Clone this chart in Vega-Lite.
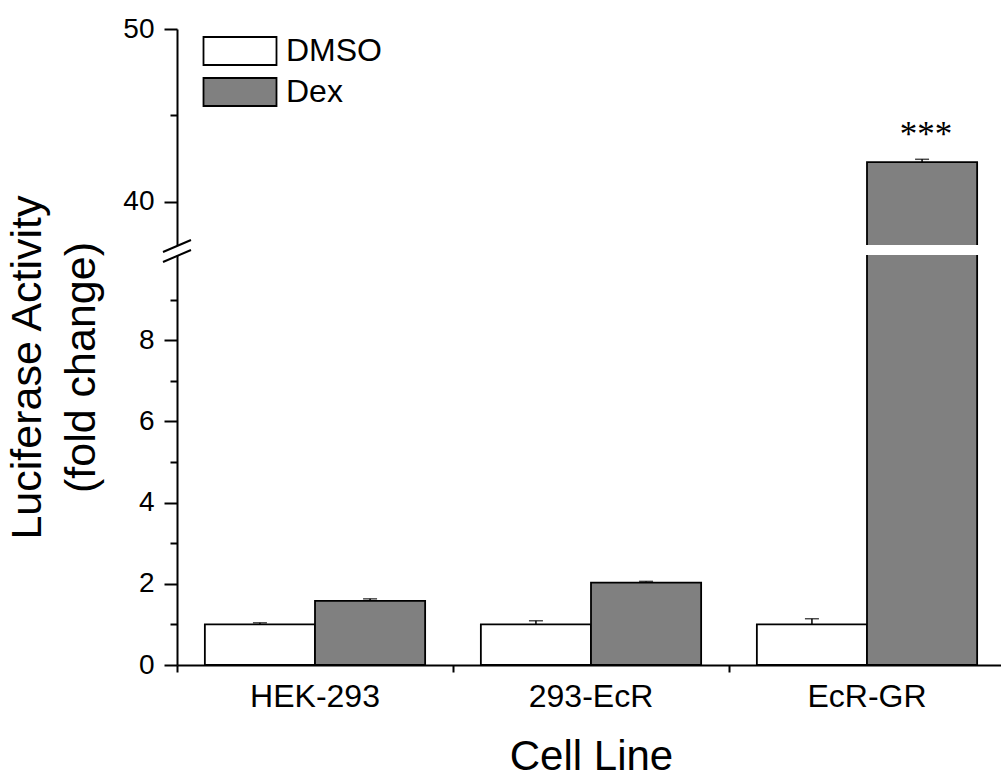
{
  "$schema": "https://vega.github.io/schema/vega-lite/v6.json",
  "background": "white",
  "padding": {"left": 6, "top": 15, "right": 0, "bottom": 0},
  "config": {
    "view": {"stroke": null},
    "font": "Liberation Sans",
    "axis": {
      "grid": false,
      "domainColor": "black",
      "domainWidth": 2,
      "tickColor": "black",
      "tickWidth": 2,
      "labelColor": "black",
      "titleColor": "black",
      "titleFontWeight": "normal",
      "labelFont": "Liberation Sans",
      "titleFont": "Liberation Sans"
    }
  },
  "datasets": {
    "bars": [
      {"cell": "HEK-293", "treatment": "DMSO", "value": 1.0, "upper": 1.04, "sig": ""},
      {"cell": "HEK-293", "treatment": "Dex", "value": 1.58, "upper": 1.63, "sig": ""},
      {"cell": "293-EcR", "treatment": "DMSO", "value": 1.0, "upper": 1.09, "sig": ""},
      {"cell": "293-EcR", "treatment": "Dex", "value": 2.03, "upper": 2.06, "sig": ""},
      {"cell": "EcR-GR", "treatment": "DMSO", "value": 1.0, "upper": 1.14, "sig": ""},
      {"cell": "EcR-GR", "treatment": "Dex", "value": 42.3, "upper": 42.46, "sig": "***"}
    ]
  },
  "spacing": 10,
  "bounds": "flush",
  "resolve": {"legend": {"color": "independent"}},
  "vconcat": [
    {
      "width": 828,
      "height": 216,
      "data": {"name": "bars"},
      "encoding": {
        "x": {
          "field": "cell", "type": "nominal",
          "sort": ["HEK-293", "293-EcR", "EcR-GR"],
          "scale": {"domain": ["HEK-293", "293-EcR", "EcR-GR"], "paddingInner": 0, "paddingOuter": 0},
          "axis": null
        },
        "xOffset": {
          "field": "treatment", "type": "nominal",
          "scale": {"domain": ["DMSO", "Dex"], "paddingInner": 0, "paddingOuter": 0.253}
        }
      },
      "resolve": {"axis": {"y": "independent"}},
      "layer": [
        {
          "mark": {"type": "bar", "clip": true, "stroke": "black", "strokeWidth": 1.8},
          "encoding": {
            "y": {
              "field": "value", "type": "quantitative",
              "scale": {"domain": [37.5, 50], "nice": false, "zero": false},
              "axis": {
                "title": null,
                "orient": "left",
                "values": [40, 50],
                "tickSize": 13,
                "labelFontSize": 28,
                "labelPadding": 10
              }
            },
            "color": {
              "field": "treatment", "type": "nominal",
              "scale": {"domain": ["DMSO", "Dex"], "range": ["#ffffff", "#808080"]},
              "legend": {
                "title": null,
                "orient": "none",
                "legendX": 47,
                "legendY": 6,
                "padding": 0,
                "symbolType": "M-2.607,-1H2.607V1H-2.607Z",
                "symbolSize": 784,
                "symbolStrokeColor": "black",
                "symbolStrokeWidth": 1.8,
                "symbolOpacity": 1,
                "labelFontSize": 32,
                "labelColor": "black",
                "labelOffset": 30,
                "rowPadding": 5
              }
            }
          }
        },
        {
          "mark": {"type": "rule", "clip": true, "color": "black", "strokeWidth": 1.5},
          "encoding": {
            "y": {
              "field": "value", "type": "quantitative",
              "axis": {"title": null, "orient": "left", "values": [45], "labels": false, "tickSize": 7, "domain": false}
            },
            "y2": {"field": "upper"}
          }
        },
        {
          "mark": {"type": "tick", "clip": true, "color": "black", "thickness": 1.5, "size": 14},
          "encoding": {
            "y": {"field": "upper", "type": "quantitative", "axis": null}
          }
        },
        {
          "transform": [{"filter": "datum.sig != ''"}],
          "mark": {"type": "text", "font": "Liberation Serif", "fontSize": 35, "baseline": "alphabetic", "dy": -13, "dx": 4, "color": "black"},
          "encoding": {
            "y": {"field": "upper", "type": "quantitative", "axis": null},
            "text": {"field": "sig"}
          }
        }
      ]
    },
    {
      "width": 828,
      "height": 410,
      "resolve": {"axis": {"y": "independent", "x": "independent"}},
      "layer": [
        {
          "data": {"name": "bars"},
          "mark": {"type": "bar", "clip": true, "stroke": "black", "strokeWidth": 1.8},
          "encoding": {
            "x": {
              "field": "cell", "type": "nominal",
              "sort": ["HEK-293", "293-EcR", "EcR-GR"],
              "scale": {"domain": ["HEK-293", "293-EcR", "EcR-GR"], "paddingInner": 0, "paddingOuter": 0},
              "axis": {
                "title": "Cell Line",
                "titleFontSize": 42,
                "titlePadding": 24,
                "labelFontSize": 32,
                "labelAngle": 0,
                "labelPadding": 9,
                "tickSize": 7,
                "bandPosition": 0
              }
            },
            "xOffset": {
              "field": "treatment", "type": "nominal",
              "scale": {"domain": ["DMSO", "Dex"], "paddingInner": 0, "paddingOuter": 0.253}
            },
            "y": {
              "field": "value", "type": "quantitative",
              "scale": {"domain": [0, 10.1], "nice": false, "zero": false},
              "axis": {
                "title": ["Luciferase Activity", "(fold change)"],
                "orient": "left",
                "titleFontSize": 43,
                "titleLineHeight": 54,
                "titlePadding": 35,
                "titleY": 112,
                "values": [0, 2, 4, 6, 8],
                "tickSize": 13,
                "labelFontSize": 28,
                "labelPadding": 10
              }
            },
            "color": {
              "field": "treatment", "type": "nominal",
              "scale": {"domain": ["DMSO", "Dex"], "range": ["#ffffff", "#808080"]},
              "legend": null
            }
          }
        },
        {
          "data": {"name": "bars"},
          "mark": {"type": "rule", "clip": true, "color": "black", "strokeWidth": 1.5},
          "encoding": {
            "x": {"field": "cell", "type": "nominal", "axis": null},
            "xOffset": {"field": "treatment", "type": "nominal"},
            "y": {
              "field": "value", "type": "quantitative",
              "axis": {"title": null, "orient": "left", "values": [1, 3, 5, 7, 9], "labels": false, "tickSize": 7, "domain": false}
            },
            "y2": {"field": "upper"}
          }
        },
        {
          "data": {"name": "bars"},
          "mark": {"type": "tick", "clip": true, "color": "black", "thickness": 1.5, "size": 14},
          "encoding": {
            "x": {"field": "cell", "type": "nominal", "axis": null},
            "xOffset": {"field": "treatment", "type": "nominal"},
            "y": {"field": "upper", "type": "quantitative", "axis": null}
          }
        },
        {
          "data": {"values": [{"marker": "axis break"}]},
          "mark": {"type": "point", "shape": "M-1,-0.214L1,-1.071M-1,0.5L1,-0.357", "size": 784, "filled": false, "stroke": "black", "strokeWidth": 2, "opacity": 1},
          "encoding": {
            "x": {"datum": "HEK-293", "type": "nominal", "bandPosition": 0, "axis": null},
            "y": {"datum": 10.1, "type": "quantitative", "axis": null}
          }
        }
      ]
    }
  ]
}
